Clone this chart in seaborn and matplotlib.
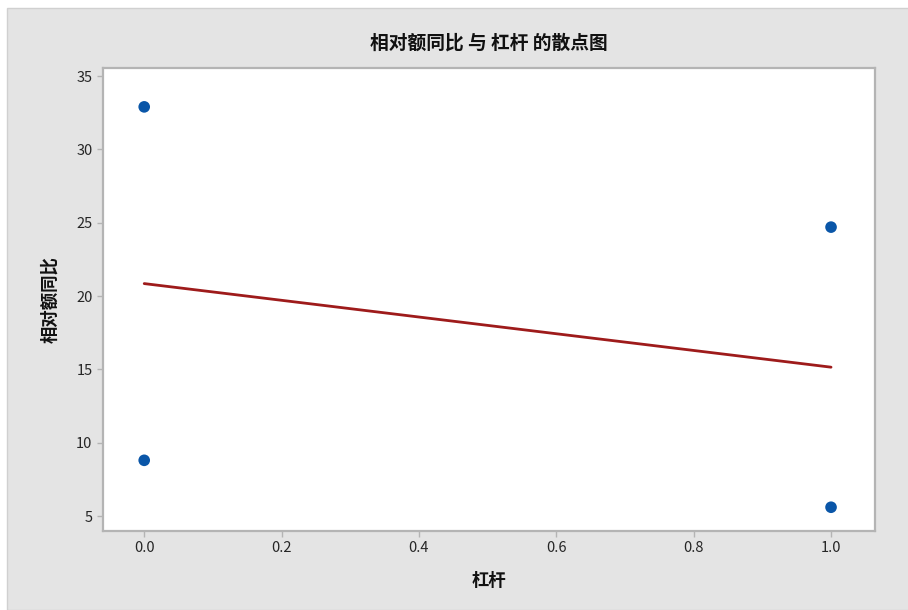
import pandas as pd
import matplotlib.pyplot as plt
import seaborn as sns
from matplotlib.patches import Rectangle

# data
lever = [0, 0, 1, 1]
yoy = [32.9, 8.8, 24.7, 5.6]

title = '相对额同比 与 杠杆 的散点图'
xlabel = '杠杆'
ylabel = '相对额同比'

df = pd.DataFrame({'杠杆': lever, '相对额同比': yoy})

sns.set_style('white')
plt.rcParams['font.family'] = ['Noto Sans CJK SC', 'DejaVu Sans']

fig = plt.figure(figsize=(9.08, 6.1), dpi=100)
fig.patch.set_facecolor('white')
# gray frame like the original
fig.patches.append(Rectangle((7/908, 0), 1, 1 - 8/610, transform=fig.transFigure,
                             facecolor='#e4e4e4', edgecolor='#d0d0d0', lw=1, zorder=-10))

ax = fig.add_axes([103/908, 1 - 531/610, (875 - 103)/908, (531 - 68)/610])
ax.set_facecolor('white')

sns.regplot(data=df, x='杠杆', y='相对额同比', ci=None, scatter=False, ax=ax,
            line_kws={'color': '#9e1b1b', 'lw': 2})
sns.scatterplot(data=df, x='杠杆', y='相对额同比', ax=ax, color='#0a56a8',
                s=70, edgecolor='none', zorder=3)

ax.set_xlim(-0.06, 1.064)
ax.set_ylim(3.98, 35.55)
ax.set_xticks([0.0, 0.2, 0.4, 0.6, 0.8, 1.0])
ax.set_xticklabels(['0.0', '0.2', '0.4', '0.6', '0.8', '1.0'])
ax.set_yticks([5, 10, 15, 20, 25, 30, 35])

for s in ax.spines.values():
    s.set_color('#b4b4b4')
    s.set_linewidth(1.6)
ax.tick_params(axis='both', which='major', length=4, width=1, color='#b4b4b4',
               labelsize=10.5, labelcolor='#262626', direction='out', bottom=True, left=True)

ax.set_title(title, fontsize=13.5, fontweight='bold', pad=14, color='#111111')
ax.set_xlabel(xlabel, fontsize=12.5, fontweight='bold', labelpad=12, color='#111111')
ax.set_ylabel(ylabel, fontsize=12.5, fontweight='bold', labelpad=12, color='#111111')

fig.savefig('out.png', dpi=100, facecolor=fig.get_facecolor())
